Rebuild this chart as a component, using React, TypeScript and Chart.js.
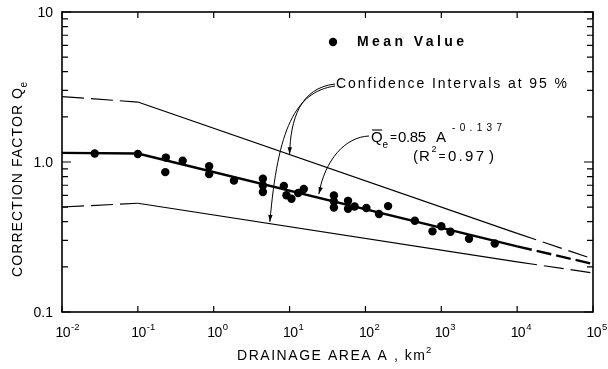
import React, { useEffect, useRef } from "react";
import { Chart, registerables } from "chart.js";

Chart.register(...registerables);

// ---- data ----
const pointAreas = [
  0.027, 0.1, 0.234, 0.23, 0.39, 0.87, 0.87, 1.85, 4.45, 4.45, 4.45, 8.4, 9.1,
  10.6, 13.0, 15.4, 38.4, 38.4, 38.4, 59, 59, 72, 103, 151, 199, 448, 766, 1000,
  1320, 2320, 5070,
];
const pointFactors = [
  1.14, 1.13, 1.07, 0.856, 1.02, 0.937, 0.83, 0.751, 0.774, 0.698, 0.631, 0.693,
  0.6, 0.569, 0.622, 0.661, 0.598, 0.545, 0.497, 0.551, 0.488, 0.505, 0.493,
  0.45, 0.508, 0.406, 0.345, 0.373, 0.343, 0.308, 0.286,
];
const lineAreas = [0.01, 0.1, 1e4, 1e5];
const upperFactors = [2.73, 2.51, 0.334, 0.226];
const meanFactors = [1.15, 1.14, 0.274, 0.209];
const lowerFactors = [0.501, 0.531, 0.216, 0.182];

const xTickValues = [1e-2, 1e-1, 1, 10, 100, 1e3, 1e4, 1e5];
const xTickExponents = ["-2", "-1", "0", "1", "2", "3", "4", "5"];
const yTickValues = [0.1, 1, 10];
const yTickLabels = ["0.1", "1.0", "10"];
const yMinorSteps = [2, 3, 4, 5, 6, 7, 8, 9];

// arrow targets (area, factor)
const upperArrowTarget = { x: 10, y: 1.126 };
const lowerArrowTarget = { x: 5.5, y: 0.399 };
const meanArrowTarget = { x: 24.3, y: 0.611 };

const FONT = '"Liberation Sans", Arial, sans-serif';

function seg(areas: number[], factors: number[], i: number, j: number) {
  const out: { x: number; y: number }[] = [];
  for (let k = i; k <= j; k++) out.push({ x: areas[k], y: factors[k] });
  return out;
}

function drawText(
  ctx: CanvasRenderingContext2D,
  text: string,
  x: number,
  y: number,
  size: number,
  width?: number,
  align: "left" | "center" | "right" = "left",
  weight = "normal"
) {
  ctx.font = `${weight} ${size}px ${FONT}`;
  (ctx as any).letterSpacing = "0px";
  const w0 = ctx.measureText(text).width;
  let sp = 0;
  if (width !== undefined && text.length > 1) sp = (width - w0) / (text.length - 1);
  const total = width !== undefined ? width : w0;
  let left = x;
  if (align === "center") left = x - total / 2;
  else if (align === "right") left = x - total;
  (ctx as any).letterSpacing = `${sp}px`;
  ctx.textAlign = "left";
  ctx.textBaseline = "middle";
  ctx.fillText(text, left, y);
  (ctx as any).letterSpacing = "0px";
  return left + total;
}

function arrowHead(
  ctx: CanvasRenderingContext2D,
  fromX: number,
  fromY: number,
  tipX: number,
  tipY: number,
  len = 7,
  half = 2.2
) {
  const a = Math.atan2(tipY - fromY, tipX - fromX);
  ctx.beginPath();
  ctx.moveTo(tipX, tipY);
  ctx.lineTo(tipX - len * Math.cos(a) + half * Math.sin(a), tipY - len * Math.sin(a) - half * Math.cos(a));
  ctx.lineTo(tipX - len * Math.cos(a) - half * Math.sin(a), tipY - len * Math.sin(a) + half * Math.cos(a));
  ctx.closePath();
  ctx.fill();
}

const decorPlugin = {
  id: "decor",
  afterDatasetsDraw(chart: any) {
    const ctx: CanvasRenderingContext2D = chart.ctx;
    const xs = chart.scales.x;
    const ys = chart.scales.y;
    const { left, right, top, bottom } = chart.chartArea;
    ctx.save();
    ctx.strokeStyle = "#000";
    ctx.fillStyle = "#000";

    // frame
    ctx.lineWidth = 1.6;
    ctx.strokeRect(left, top, right - left, bottom - top);

    // y ticks (left and right, inside)
    ctx.lineWidth = 1.2;
    const decades = [0.1, 1];
    decades.forEach((d) => {
      yMinorSteps.forEach((m) => {
        const py = ys.getPixelForValue(d * m);
        ctx.beginPath();
        ctx.moveTo(left, py);
        ctx.lineTo(left + 6, py);
        ctx.moveTo(right, py);
        ctx.lineTo(right - 6, py);
        ctx.stroke();
      });
    });
    yTickValues.forEach((v) => {
      const py = ys.getPixelForValue(v);
      ctx.beginPath();
      ctx.moveTo(left, py);
      ctx.lineTo(left + 9, py);
      ctx.moveTo(right, py);
      ctx.lineTo(right - 9, py);
      ctx.stroke();
    });
    // x ticks (bottom and top, inside)
    xTickValues.forEach((v) => {
      const px = xs.getPixelForValue(v);
      ctx.beginPath();
      ctx.moveTo(px, bottom);
      ctx.lineTo(px, bottom - 6);
      ctx.moveTo(px, top);
      ctx.lineTo(px, top + 6);
      ctx.stroke();
    });

    // y tick labels
    yTickValues.forEach((v, i) => {
      const py = ys.getPixelForValue(v);
      drawText(ctx, yTickLabels[i], 53, py + 1, 14, undefined, "right");
    });
    // x tick labels with superscript exponents
    xTickValues.forEach((v, i) => {
      const px = xs.getPixelForValue(v) + 1;
      const end = drawText(ctx, "10", px, bottom + 21, 14, 15, "center");
      drawText(ctx, xTickExponents[i], end + 0.5, bottom + 15, 9.5, undefined, "left");
    });

    // axis titles
    const xEnd = drawText(ctx, "DRAINAGE AREA A , km", 237, 356, 14, 188, "left");
    drawText(ctx, "2", xEnd + 1, 350, 9.5);
    ctx.save();
    ctx.translate(18, 277);
    ctx.rotate(-Math.PI / 2);
    const yEnd = drawText(ctx, "CORRECTION FACTOR Q", 0, 0, 14, 189, "left");
    drawText(ctx, "e", yEnd + 0.5, 6, 10);
    ctx.restore();

    // legend
    ctx.beginPath();
    ctx.arc(333, 42, 4.2, 0, Math.PI * 2);
    ctx.fill();
    drawText(ctx, "Mean Value", 357, 42, 14, 107, "left", "bold");

    // confidence label
    drawText(ctx, "Confidence Intervals at 95 %", 336, 84, 14, 231, "left");

    // equation
    drawText(ctx, "Q", 371, 138, 15);
    ctx.lineWidth = 1.1;
    ctx.beginPath();
    ctx.moveTo(372, 130);
    ctx.lineTo(382, 130);
    ctx.stroke();
    drawText(ctx, "e", 382.5, 145, 10);
    drawText(ctx, "=", 390, 138, 12);
    drawText(ctx, "0.85", 398, 138, 15, 28);
    drawText(ctx, "A", 436, 138, 15);
    drawText(ctx, "-0.137", 452, 128, 10, 50);
    drawText(ctx, "(", 413, 157, 15);
    drawText(ctx, "R", 419, 157, 15);
    drawText(ctx, "2", 431.5, 150, 9);
    drawText(ctx, "=", 438.5, 157, 12);
    drawText(ctx, "0.97", 448, 157, 15, 36);
    drawText(ctx, ")", 489, 157, 15);

    // arrows
    ctx.lineWidth = 1;
    const ut = { x: xs.getPixelForValue(upperArrowTarget.x), y: ys.getPixelForValue(upperArrowTarget.y) };
    const lt = { x: xs.getPixelForValue(lowerArrowTarget.x), y: ys.getPixelForValue(lowerArrowTarget.y) };
    const mt = { x: xs.getPixelForValue(meanArrowTarget.x), y: ys.getPixelForValue(meanArrowTarget.y) };

    ctx.beginPath();
    ctx.moveTo(335, 84);
    ctx.bezierCurveTo(300, 88, ut.x + 1, ut.y - 35, ut.x, ut.y);
    ctx.stroke();
    arrowHead(ctx, ut.x + 0.3, ut.y - 8, ut.x, ut.y);

    ctx.beginPath();
    ctx.moveTo(335, 86);
    ctx.bezierCurveTo(295, 92, lt.x + 8, lt.y - 93, lt.x, lt.y);
    ctx.stroke();
    arrowHead(ctx, lt.x + 0.6, lt.y - 8, lt.x, lt.y);

    ctx.beginPath();
    ctx.moveTo(369, 136);
    ctx.bezierCurveTo(345, 137, mt.x + 6, mt.y - 34, mt.x, mt.y);
    ctx.stroke();
    arrowHead(ctx, mt.x + 2, mt.y - 7, mt.x, mt.y);

    ctx.restore();
  },
};

export default function App() {
  const ref = useRef<HTMLCanvasElement | null>(null);
  useEffect(() => {
    if (!ref.current) return;
    const lineDs = (data: any, width: number, dash: number[]) => ({
      type: "scatter" as const,
      data,
      showLine: true,
      borderColor: "#000",
      backgroundColor: "#000",
      borderWidth: width,
      borderDash: dash,
      pointRadius: 0,
      fill: false,
    });
    const chart = new Chart(ref.current, {
      type: "scatter",
      data: {
        datasets: [
          lineDs(seg(lineAreas, upperFactors, 0, 1), 1.2, [22, 7]),
          lineDs(seg(lineAreas, upperFactors, 1, 2), 1.2, []),
          lineDs(seg(lineAreas, upperFactors, 2, 3), 1.2, [20, 7]),
          lineDs(seg(lineAreas, meanFactors, 0, 2), 2.4, []),
          lineDs(seg(lineAreas, meanFactors, 2, 3), 2.4, [15, 5]),
          lineDs(seg(lineAreas, lowerFactors, 0, 1), 1.2, [22, 7]),
          lineDs(seg(lineAreas, lowerFactors, 1, 2), 1.2, []),
          lineDs(seg(lineAreas, lowerFactors, 2, 3), 1.2, [20, 7]),
          {
            type: "scatter",
            data: pointAreas.map((a, i) => ({ x: a, y: pointFactors[i] })),
            pointRadius: 4.2,
            pointBackgroundColor: "#000",
            pointBorderColor: "#000",
            pointBorderWidth: 0,
            showLine: false,
          },
        ] as any,
      },
      options: {
        animation: false,
        responsive: false,
        maintainAspectRatio: false,
        devicePixelRatio: 1,
        layout: { padding: { left: 62, right: 15, top: 12, bottom: 57 } },
        plugins: { legend: { display: false }, tooltip: { enabled: false } },
        scales: {
          x: { type: "logarithmic", min: 0.01, max: 1e5, display: false },
          y: { type: "logarithmic", min: 0.1, max: 10, display: false },
        },
      },
      plugins: [decorPlugin],
    });
    return () => chart.destroy();
  }, []);
  return (
    <div style={{ position: "fixed", left: 0, top: 0, width: 608, height: 369, background: "#fff" }}>
      <canvas ref={ref} width={608} height={369} />
    </div>
  );
}
